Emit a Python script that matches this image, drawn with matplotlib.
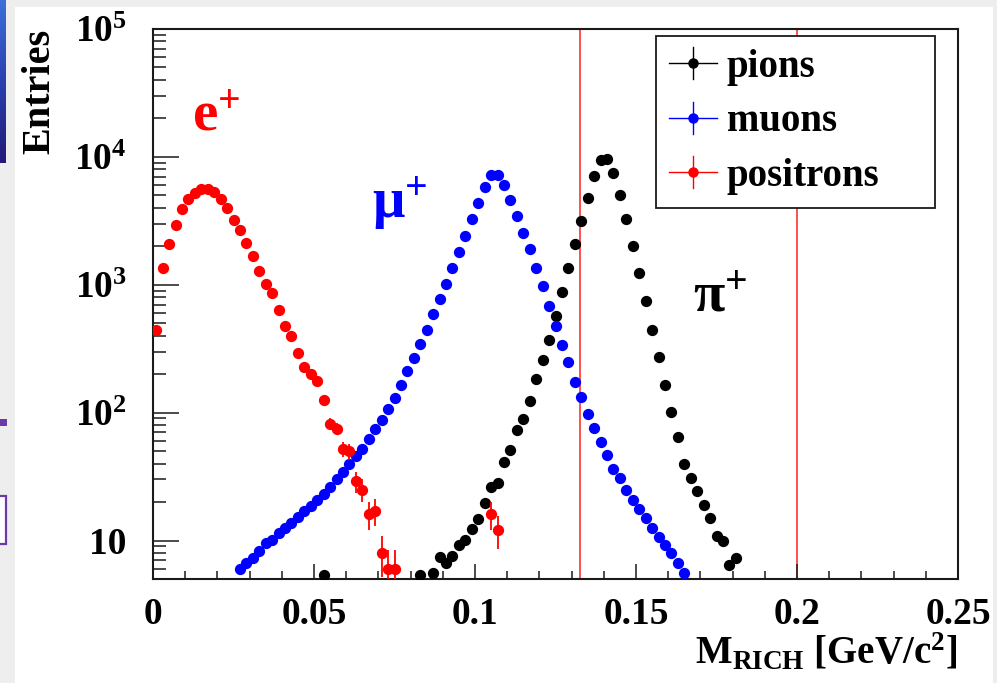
import numpy as np
import matplotlib
matplotlib.use("Agg")
import matplotlib.pyplot as plt
from matplotlib.lines import Line2D
from matplotlib.patches import Rectangle
from matplotlib.legend_handler import HandlerBase
from matplotlib.ticker import LogLocator, MultipleLocator, NullFormatter, FixedLocator

plt.rcParams['font.family'] = ['Liberation Serif', 'DejaVu Serif']
plt.rcParams['font.weight'] = 'bold'
plt.rcParams['mathtext.fontset'] = 'custom'
plt.rcParams['mathtext.rm'] = 'Liberation Serif:bold'
plt.rcParams['mathtext.bf'] = 'Liberation Serif:bold'
plt.rcParams['mathtext.it'] = 'Liberation Serif:bold:italic'
plt.rcParams['mathtext.default'] = 'rm'

# ---- data: bin centres [GeV/c^2] and entries ----
pion_x = [0.053, 0.083, 0.087, 0.089, 0.091, 0.093, 0.095, 0.097, 0.099, 0.101,
          0.103, 0.105, 0.107, 0.109, 0.111, 0.113, 0.115, 0.117, 0.119, 0.121,
          0.123, 0.125, 0.127, 0.129, 0.131, 0.133, 0.135, 0.137, 0.139, 0.141,
          0.143, 0.145, 0.147, 0.149, 0.151, 0.153, 0.155, 0.157, 0.159, 0.161,
          0.163, 0.165, 0.167, 0.169, 0.171, 0.173, 0.175, 0.177, 0.179, 0.181]
pion_n = [5.4, 5.4, 5.6, 7.4, 6.7, 7.5, 9.3, 10.1, 12.2, 14.6,
          19.7, 26.3, 28.3, 40.9, 51.4, 72.8, 89.8, 124, 183, 259,
          372, 566, 871, 1350, 2080, 3162, 4810, 7140, 9480, 9590,
          7460, 5050, 3260, 2018, 1234, 741, 440, 272, 164, 101,
          65, 39.7, 30.9, 24.3, 18.8, 15.0, 10.8, 9.9, 6.4, 7.3]

muon_x = [0.027, 0.029, 0.031, 0.033, 0.035, 0.037, 0.039, 0.041, 0.043, 0.045,
          0.047, 0.049, 0.051, 0.053, 0.055, 0.057, 0.059, 0.061, 0.063, 0.065,
          0.067, 0.069, 0.071, 0.073, 0.075, 0.077, 0.079, 0.081, 0.083, 0.085,
          0.087, 0.089, 0.091, 0.093, 0.095, 0.097, 0.099, 0.101, 0.103, 0.105,
          0.107, 0.109, 0.111, 0.113, 0.115, 0.117, 0.119, 0.121, 0.123, 0.125,
          0.127, 0.129, 0.131, 0.133, 0.135, 0.137, 0.139, 0.141, 0.143, 0.145,
          0.147, 0.149, 0.151, 0.153, 0.155, 0.157, 0.159, 0.161, 0.163, 0.165]
muon_n = [6.0, 6.7, 7.3, 8.3, 9.5, 10.1, 11.5, 12.6, 13.6, 15.3,
          16.9, 18.5, 20.9, 23.3, 26.2, 30, 34.2, 39.3, 45.6, 52.4,
          62, 74, 88, 106, 130, 163, 210, 267, 344, 440,
          590, 773, 1012, 1350, 1790, 2386, 3260, 4395, 5800, 7230,
          7230, 6040, 4615, 3460, 2550, 1890, 1350, 970, 677, 479,
          340, 247, 174, 132, 98, 76, 58.6, 47, 36.3, 30.9,
          25, 20.9, 17.7, 15.0, 12.6, 10.7, 9.3, 8.0, 6.7, 5.6]

positron_x = [0.001, 0.003, 0.005, 0.007, 0.009, 0.011, 0.013, 0.015, 0.017, 0.019,
              0.021, 0.023, 0.025, 0.027, 0.029, 0.031, 0.033, 0.035, 0.037, 0.039,
              0.041, 0.043, 0.045, 0.047, 0.049, 0.051, 0.053, 0.055, 0.057, 0.059,
              0.061, 0.063, 0.065, 0.067, 0.069, 0.071, 0.073, 0.075, 0.105, 0.107]
positron_n = [440, 1358, 2080, 2943, 3878, 4670, 5200, 5620, 5620, 5360,
              4670, 3970, 3220, 2690, 2140, 1686, 1270, 1012, 861, 630,
              478, 395, 292, 226, 202, 176, 125, 82, 75, 52,
              50, 29, 25, 16, 17, 8, 6, 6, 16, 12]

cut_lines = [0.1325, 0.2]
x_ticks = [0, 0.05, 0.1, 0.15, 0.2, 0.25]
x_ticklabels = ['0', '0.05', '0.1', '0.15', '0.2', '0.25']
y_ticks = [10, 1e2, 1e3, 1e4, 1e5]
y_ticklabels = ['10', r'$10^{2}$', r'$10^{3}$', r'$10^{4}$', r'$10^{5}$']
series_names = ['pions', 'muons', 'positrons']
series_colors = ['black', '#0000ff', '#ff0000']

W, H = 997, 683
fig = plt.figure(figsize=(W / 100, H / 100), dpi=100)
fig.patch.set_facecolor('white')

# slide border strips around the plot
for rect in [(0, 1 - 7 / H, 1, 7 / H), (0, 0, 15 / W, 1), (993 / W, 0, 4 / W, 1)]:
    fig.add_artist(Rectangle(rect[:2], rect[2], rect[3], transform=fig.transFigure,
                             facecolor='#eeeeee', edgecolor='none', zorder=-1))
grad_ax = fig.add_axes([0, 1 - 163 / H, 6 / W, 163 / H], zorder=2)
grad = np.linspace(0, 1, 64).reshape(-1, 1)
grad_ax.imshow(grad, aspect='auto', cmap=matplotlib.colors.LinearSegmentedColormap.from_list(
    'slide', ['#3d6fd8', '#2a3fb0', '#221a78']))
grad_ax.axis('off')
fig.add_artist(Rectangle((0, 1 - 426 / H), 7 / W, 7 / H, transform=fig.transFigure,
                         facecolor='#6a3aa8', edgecolor='none'))
fig.add_artist(Rectangle((-2 / W, 1 - 544 / H), 8 / W, 48 / H, transform=fig.transFigure,
                         facecolor='white', edgecolor='#6a3aa8', lw=1.6))

ax = fig.add_axes([153 / W, 1 - 579 / H, (958 - 153) / W, (579 - 29) / H])
ax.set_xlim(0, 0.25)
ax.set_yscale('log')
ax.set_ylim(5, 1e5)

for xc in cut_lines:
    ax.axvline(xc, color='#ff2020', lw=1.1, zorder=1)

ms = 7.1
ax.plot(pion_x, pion_n, 'o', color=series_colors[0], ms=ms, zorder=3)
ax.plot(muon_x, muon_n, 'o', color=series_colors[1], ms=ms, zorder=3)
ax.errorbar(positron_x, positron_n, yerr=np.sqrt(positron_n), fmt='o',
            color=series_colors[2], ms=ms, elinewidth=1.3, capsize=0, zorder=4)

# axes styling (inward ticks on left/bottom only)
for s in ax.spines.values():
    s.set_color('#1a1a1a')
    s.set_linewidth(1.5)
ax.xaxis.set_major_locator(FixedLocator(x_ticks))
ax.set_xticklabels(x_ticklabels)
ax.xaxis.set_minor_locator(MultipleLocator(0.01))
ax.yaxis.set_major_locator(FixedLocator(y_ticks))
ax.set_yticklabels(y_ticklabels)
ax.yaxis.set_minor_locator(LogLocator(base=10, subs=np.arange(2, 10)))
ax.yaxis.set_minor_formatter(NullFormatter())
ax.tick_params(axis='both', which='both', direction='in', colors='#1a1a1a',
               labelcolor='black', top=False, right=False)
ax.tick_params(axis='x', which='major', length=11, width=1.1, pad=13, labelsize=27)
ax.tick_params(axis='x', which='minor', length=5.5, width=1.1)
ax.tick_params(axis='y', which='major', length=19, width=1.1, pad=19, labelsize=27)
ax.tick_params(axis='y', which='minor', length=9.5, width=1.1)

# particle labels
ax.text(0.0484, 0.816, r'$\mathrm{e}^{+}$', transform=ax.transAxes, color='#ff0000',
        fontsize=41, ha='left', va='baseline')
ax.text(0.272, 0.656, r'$\mathrm{μ}^{+}$', transform=ax.transAxes, color='#0000ff',
        fontsize=41, ha='left', va='baseline')
ax.text(0.671, 0.4855, r'$\mathrm{π}^{+}$', transform=ax.transAxes, color='black',
        fontsize=41, ha='left', va='baseline')

# axis titles
fig.text(40 / W, 1 - 29 / H, 'Entries', rotation=90, ha='center', va='top',
         fontsize=29, fontweight='bold')
fig.text(957 / W, 1 - 663 / H, r'M$_{\mathrm{RICH}}$ [GeV/c$^{2}$]', ha='right',
         va='baseline', fontsize=28, fontweight='bold')


class CrossHandler(HandlerBase):
    def create_artists(self, legend, orig_handle, xdescent, ydescent, width, height,
                       fontsize, trans):
        col = orig_handle.get_color()
        x0, x1 = -xdescent, width - xdescent
        cx = 0.5 * (x0 + x1)
        cy = 0.5 * height - ydescent
        vh = 11.5
        hline = Line2D([x0, x1], [cy, cy], color=col, lw=1.0, transform=trans)
        vline = Line2D([cx, cx], [cy - vh, cy + vh], color=col, lw=1.0, transform=trans)
        dot = Line2D([cx], [cy], marker='o', ms=6.5, color=col, ls='none', transform=trans)
        return [hline, vline, dot]


handles = [Line2D([], [], color=c) for c in series_colors]
leg = ax.legend(handles, series_names, handler_map={Line2D: CrossHandler()},
                loc='upper left', bbox_to_anchor=(0.6248, 0.6873, 0.3466, 0.300),
                mode='expand', borderaxespad=0, fontsize=28, handlelength=1.23,
                handletextpad=0.26, borderpad=0.33, labelspacing=0.45,
                fancybox=False, framealpha=1, edgecolor='#1a1a1a')
leg.get_frame().set_linewidth(1.3)
leg.set_zorder(10)

fig.savefig('out.png', dpi=100)
